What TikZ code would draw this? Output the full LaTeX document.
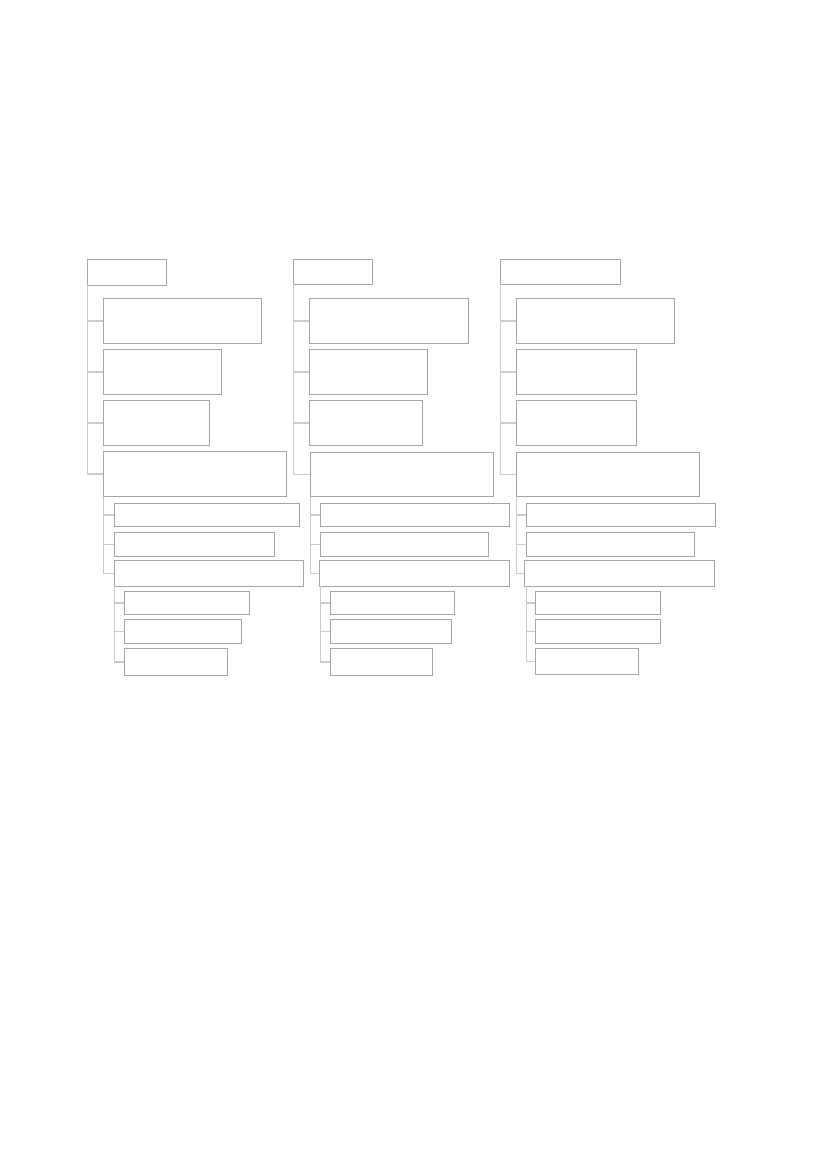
\documentclass[tikz,border=0pt]{standalone}
\usetikzlibrary{fit}
\definecolor{boxgray}{RGB}{166,166,166}
\definecolor{linegray}{RGB}{204,204,204}
\tikzset{
  box/.style={draw=boxgray, line width=0.7pt, inner sep=0pt, outer sep=0pt, rectangle},
  conn/.style={draw=linegray, line width=1pt},
}
\newcommand\bx[5]{\node[box, fit={(#2,#3) (#4,#5)}] (#1) {};}
\begin{document}
\begin{tikzpicture}[x=0.72pt,y=-0.72pt]
\useasboundingbox (0,0) rectangle (827,1169);
% ---------- column A ----------
\bx{ar}{87.3}{259.3}{166.7}{285}
\bx{ac1}{103.3}{298.3}{261.7}{343.3}
\bx{ac2}{103.3}{349.3}{221.7}{394.3}
\bx{ac3}{103.3}{400.3}{209.7}{445.3}
\bx{ac4}{103.3}{451.3}{286.7}{496.7}
\bx{ag1}{114.3}{503.3}{299.7}{526.3}
\bx{ag2}{114.3}{532.3}{274.7}{556.3}
\bx{ag3}{114.3}{560.3}{303.7}{586.3}
\bx{ah1}{124.3}{591.3}{249.7}{614.3}
\bx{ah2}{124.3}{619.3}{241.7}{643.7}
\bx{ah3}{124.3}{648.3}{227.7}{675.3}
% ---------- column B ----------
\bx{br}{293.3}{259.3}{372.7}{284.3}
\bx{bc1}{309.3}{298.3}{468.7}{343.3}
\bx{bc2}{309.3}{349.3}{427.7}{394.3}
\bx{bc3}{309.3}{400.3}{422.7}{445.3}
\bx{bc4}{310.3}{452.3}{493.7}{496.7}
\bx{bg1}{320.3}{503.3}{509.7}{526.3}
\bx{bg2}{320.3}{532.3}{488.7}{556.3}
\bx{bg3}{319.3}{560.3}{509.7}{586.3}
\bx{bh1}{330.3}{591.3}{454.7}{614.3}
\bx{bh2}{330.3}{619.3}{451.7}{643.7}
\bx{bh3}{330.3}{648.3}{432.7}{675.3}
% ---------- column C ----------
\bx{cr}{500.3}{259.3}{620.7}{284.3}
\bx{cc1}{516.3}{298.3}{674.7}{343.3}
\bx{cc2}{516.3}{349.3}{636.7}{394.3}
\bx{cc3}{516.3}{400.3}{636.7}{445.3}
\bx{cc4}{516.3}{452.3}{699.3}{496.7}
\bx{cg1}{526.3}{503.3}{715.7}{526.3}
\bx{cg2}{526.3}{532.3}{694.7}{556.3}
\bx{cg3}{524.3}{560.3}{714.7}{586.3}
\bx{ch1}{535.3}{591.3}{660.7}{614.3}
\bx{ch2}{535.3}{619.3}{660.7}{643.7}
\bx{ch3}{535.3}{648.3}{638.7}{674.3}
% ---------- connectors ----------
\foreach \p in {a,b,c}{
  \foreach \k in {1,2,3,4}{
    \draw[conn] (\p r.south west) |- (\p c\k.west);
  }
  \foreach \k in {1,2,3}{
    \draw[conn] (\p c4.south west) |- (\p g\k.west);
    \draw[conn] (\p g3.south -| \p g1.west) |- (\p h\k.west);
  }
}
\end{tikzpicture}
\end{document}
